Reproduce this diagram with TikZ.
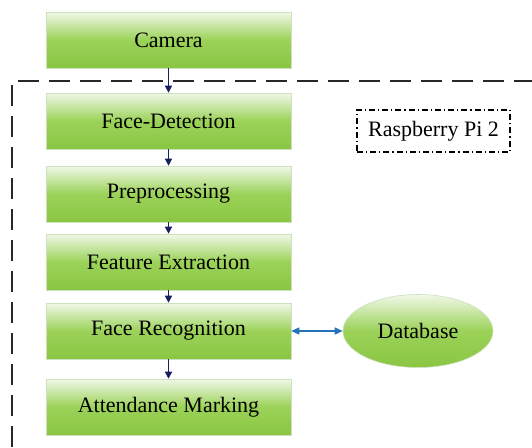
\documentclass[tikz,border=0pt]{standalone}
\usepackage{fontspec}
\setmainfont{Liberation Serif}
\usetikzlibrary{arrows.meta,shapes.geometric}
\definecolor{gtop}{RGB}{240,248,232}
\definecolor{gmid}{RGB}{155,210,88}
\definecolor{gbot}{RGB}{138,198,66}
\definecolor{gedge}{RGB}{205,225,190}
\definecolor{navy}{RGB}{25,30,95}
\definecolor{dbblue}{RGB}{35,115,185}
\definecolor{frame}{RGB}{40,40,40}
\begin{document}
\begin{tikzpicture}[x=1pt,y=-1pt,
  stage/.style={rectangle,draw=gedge,line width=0.6pt,minimum width=245pt,minimum height=56pt,
    top color=gtop,bottom color=gbot,middle color=gmid,inner sep=0pt,font=\fontsize{22}{26}\selectfont,text=black},
  flowarrow/.style={-{Triangle[length=7pt,width=7pt]},draw=navy,fill=navy,line width=1.4pt},
]
\useasboundingbox (0,0) rectangle (532,447);
\fill[white] (0,0) rectangle (532,447);
% outer dashed frame
\draw[frame,line width=1.8pt,dash pattern=on 21pt off 10pt] (12,447) -- (12,81) -- (540,81);
% stages
\node[stage] (cam) at (168.5,40) {Camera};
\node[stage] (fd)  at (168.5,121) {Face-Detection};
\node[stage] (pre) at (168.5,194) {Preprocessing};
\node[stage] (fe)  at (168.5,262) {Feature Extraction};
\node[stage] (fr)  at (168.5,331) {Face Recognition};
\node[stage] (am)  at (168.5,407) {Attendance Marking};
% database
\node[ellipse,draw=gedge,line width=0.6pt,minimum width=150pt,minimum height=73pt,inner sep=0pt,
  top color=gtop,bottom color=gbot,middle color=gmid,font=\fontsize{22}{26}\selectfont] (db) at (418,331) {Database};
% raspberry label
\node[draw=black,line width=1.1pt,dash pattern=on 6pt off 3pt on 1.2pt off 3pt,
  minimum width=153pt,minimum height=42pt,inner sep=0pt,font=\fontsize{22}{26}\selectfont] (rpi) at (433.5,131) {Raspberry Pi 2};
% arrows
\draw[flowarrow] (cam) -- (fd);
\draw[flowarrow] (fd) -- (pre);
\draw[flowarrow] (pre) -- (fe);
\draw[flowarrow] (fe) -- (fr);
\draw[flowarrow] (fr) -- (am);
\draw[{Triangle[length=8pt,width=7pt]}-{Triangle[length=8pt,width=7pt]},draw=dbblue,fill=dbblue,line width=1.4pt] (fr) -- (db);
\end{tikzpicture}
\end{document}
